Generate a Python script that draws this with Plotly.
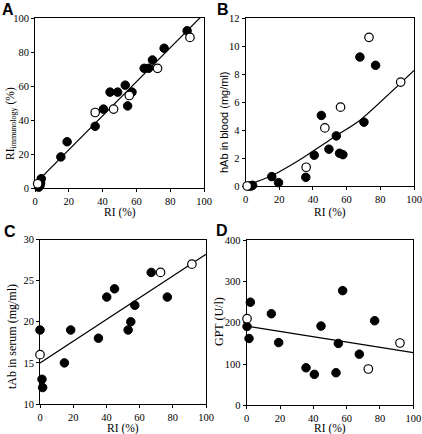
import plotly.graph_objects as go

W, H = 422, 434

# ---------------- data ----------------
# Panel A: RI (%) vs RI immunology (%)
a_fill_x = [90, 76.4, 69.5, 64.6, 67.2, 53.4, 57.4, 48.9, 44.4, 54.8, 40.5, 35.6, 19, 15.3, 3.7, 3.3, 3.0, 2.2]
a_fill_y = [92.5, 82.2, 75.3, 70.4, 70.4, 60.5, 56.4, 56.4, 56.4, 48.3, 46.4, 36.3, 27.2, 18.3, 5.5, 3.0, 1.5, 0.5]
a_open_x = [91.7, 72.5, 55.8, 46.5, 35.6, 1.0, 1.6]
a_open_y = [88.6, 70.4, 54.4, 46.4, 44.4, -0.5, 2.5]
a_fit_x = [0, 100]
a_fit_y = [2.5, 102.5]

# Panel B: RI (%) vs hAb in blood (mg/ml)
b_fill_x = [67.9, 77.2, 70.3, 45.0, 53.9, 40.8, 49.5, 55.8, 57.8, 35.8, 15.6, 19.6, 2.0, 3.3, 4.2]
b_fill_y = [9.21, 8.62, 4.56, 5.04, 3.58, 2.20, 2.63, 2.34, 2.24, 0.62, 0.67, 0.24, 0.0, 0.0, 0.05]
b_open_x = [73.3, 92.1, 56.4, 47.1, 36.0, 1.0]
b_open_y = [10.62, 7.42, 5.63, 4.15, 1.34, 0.0]
b_fit_x = [0, 15.7, 32.5, 54, 68, 100]
b_fit_y = [0, 0.75, 1.9, 3.6, 4.7, 8.25]

# Panel C: RI (%) vs tAb in serum (mg/ml)
c_fill_x = [0, 1.2, 1.6, 14.7, 18.5, 35.2, 40.2, 44.9, 53.1, 54.7, 57.1, 67.0, 76.7]
c_fill_y = [19, 13, 12, 15, 19, 18, 23, 24, 19, 20, 22, 26, 23]
c_open_x = [0, 72.6, 91.5]
c_open_y = [16, 26, 27]
c_fit_x = [0, 100]
c_fit_y = [15.0, 28.2]

# Panel D: RI (%) vs GPT (U/l)
d_fill_x = [2.2, 0.2, 1.4, 14.8, 19.2, 35.6, 40.6, 44.6, 53.6, 55.0, 57.6, 67.6, 76.8]
d_fill_y = [250, 191, 162, 222, 152, 91, 75, 192, 79, 150, 278, 124, 205]
d_open_x = [0.2, 73.0, 92.0]
d_open_y = [210, 88, 151]
d_fit_x = [0, 100]
d_fit_y = [192, 127.5]

x_ticks = [0, 20, 40, 60, 80, 100]
a_y_ticks = [0, 20, 40, 60, 80, 100]
b_y_ticks = [0, 2, 4, 6, 8, 10, 12]
c_y_ticks = [10, 15, 20, 25, 30]
d_y_ticks = [0, 100, 200, 300, 400]

panel_letters = ["A", "B", "C", "D"]
x_title = "RI (%)"
y_titles = ["RI<sub>immunology</sub> (%)", "hAb in blood (mg/ml)", "tAb in serum (mg/ml)", "GPT (U/l)"]

# ---------------- layout helpers ----------------
SERIF = "Liberation Serif"
SANS = "Liberation Sans"

def px_x(p):
    return p / W

def px_y(p):
    return 1 - p / H

# plot boxes in pixels: (left, right, top, bottom)
boxes = [
    (35, 204, 18, 188),
    (245.5, 414, 18, 186),
    (40, 206, 239.5, 404),
    (246.7, 413.3, 240.3, 405.3),
]
y_ranges = [[0, 100], [0, 12], [10, 30], [0, 400]]
y_tickvals = [a_y_ticks, b_y_ticks, c_y_ticks, d_y_ticks]

panels = [
    (a_fill_x, a_fill_y, a_open_x, a_open_y, a_fit_x, a_fit_y, "linear"),
    (b_fill_x, b_fill_y, b_open_x, b_open_y, b_fit_x, b_fit_y, "spline"),
    (c_fill_x, c_fill_y, c_open_x, c_open_y, c_fit_x, c_fit_y, "linear"),
    (d_fill_x, d_fill_y, d_open_x, d_open_y, d_fit_x, d_fit_y, "linear"),
]

fig = go.Figure()
layout = dict(
    width=W, height=H,
    autosize=False,
    margin=dict(l=0, r=0, t=0, b=0, pad=0, autoexpand=False),
    paper_bgcolor="white", plot_bgcolor="white",
    showlegend=False,
    font=dict(family=SERIF, size=10.5, color="black"),
)

annotations = []
for i, (fx, fy, ox, oy, lx, ly, shape) in enumerate(panels):
    n = "" if i == 0 else str(i + 1)
    xa, ya = "x" + n, "y" + n
    l, r, t, b = boxes[i]
    common = dict(
        showline=True, linecolor="black", linewidth=1, mirror=True,
        ticks="outside", ticklen=3, tickwidth=1, tickcolor="black",
        showgrid=False, zeroline=False, automargin=False,
        tickfont=dict(family=SERIF, size=10.5, color="black"),
        layer="below traces",
    )
    layout["xaxis" + n] = dict(
        domain=[px_x(l), px_x(r)], range=[0, 100], tickvals=x_ticks,
        anchor=ya, **common)
    layout["yaxis" + n] = dict(
        domain=[px_y(b), px_y(t)], range=y_ranges[i], tickvals=y_tickvals[i],
        anchor=xa, **common)

    fig.add_trace(go.Scatter(x=lx, y=ly, mode="lines", xaxis=xa, yaxis=ya,
                             line=dict(color="black", width=1.2, shape=shape, smoothing=0.6)))
    fig.add_trace(go.Scatter(x=fx, y=fy, mode="markers", xaxis=xa, yaxis=ya, cliponaxis=False,
                             marker=dict(size=8.5, color="black", line=dict(color="black", width=1))))
    fig.add_trace(go.Scatter(x=ox, y=oy, mode="markers", xaxis=xa, yaxis=ya, cliponaxis=False,
                             marker=dict(size=8.5, color="white", line=dict(color="black", width=1.2))))

# panel letters
letter_pos = [(0, -1), (215, -1), (2, 221), (214, 220)]
for letter, (lx, ly) in zip(panel_letters, letter_pos):
    annotations.append(dict(text="<b>" + letter + "</b>", xref="paper", yref="paper",
                            x=px_x(lx), y=px_y(ly), xanchor="left", yanchor="top",
                            showarrow=False, font=dict(family=SANS, size=16, color="black")))

# x titles
x_title_pos = [(119.5, 212), (330, 212), (123, 428.5), (330, 428.5)]
for (cx, cy) in x_title_pos:
    annotations.append(dict(text=x_title, xref="paper", yref="paper",
                            x=px_x(cx), y=px_y(cy), xanchor="center", yanchor="middle",
                            showarrow=False, font=dict(family=SERIF, size=11.5, color="black")))

# y titles
y_title_pos = [(11, 124), (224, 122), (12, 337), (219, 322)]
y_title_fonts = [SERIF, SANS, SERIF, SERIF]
y_title_sizes = [11.5, 11, 12, 12]
for txt, (cx, cy), fam, sz in zip(y_titles, y_title_pos, y_title_fonts, y_title_sizes):
    annotations.append(dict(text=txt, xref="paper", yref="paper", textangle=-90,
                            x=px_x(cx), y=px_y(cy), xanchor="center", yanchor="middle",
                            showarrow=False, font=dict(family=fam, size=sz, color="black")))

layout["annotations"] = annotations
fig.update_layout(**layout)
fig.write_html(
    "out.html",
    config={"displayModeBar": False},
    post_script="document.body.style.margin='0px';document.body.style.padding='0px';document.body.style.overflow='hidden';",
)
